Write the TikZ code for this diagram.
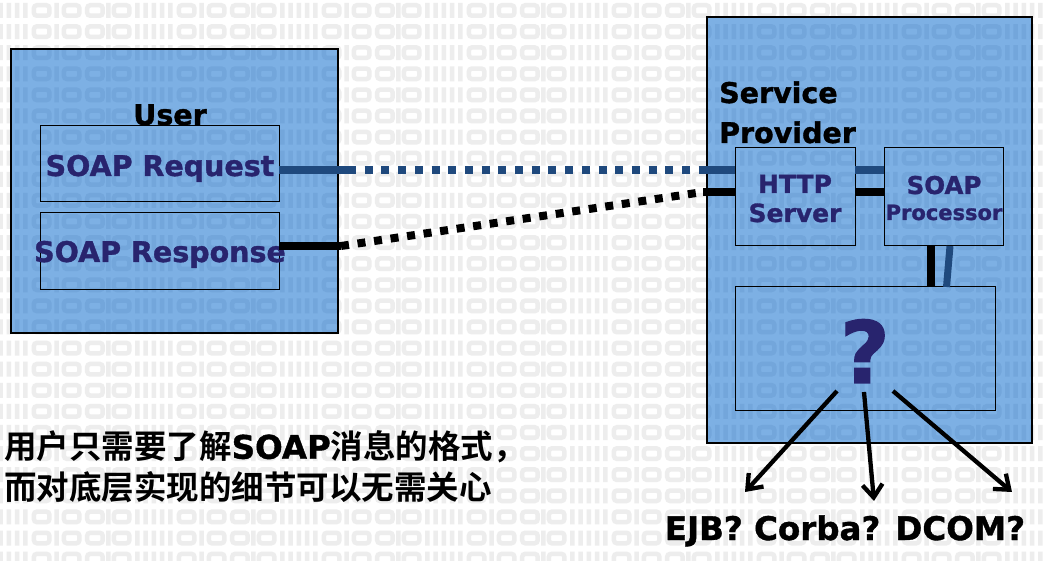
\documentclass[tikz,border=0pt]{standalone}
\usepackage{fontspec}
\setmainfont{DejaVu Sans}[BoldFeatures={FakeBold=1.2}]
\newfontfamily\latb{DejaVu Sans Bold}[FakeBold=1.2]
\newfontfamily\cjkb{Noto Sans CJK SC Bold}
\usetikzlibrary{arrows.meta,calc}
\definecolor{boxblue}{RGB}{125,176,228}
\definecolor{patblue}{RGB}{115,166,219}
\definecolor{patgray}{RGB}{237,237,237}
\definecolor{navy}{RGB}{40,36,110}
\definecolor{lineblue}{RGB}{31,73,125}
\tikzset{
  bigbox/.style={draw=black, line width=1.3pt, fill=boxblue, inner sep=0pt, outer sep=0pt},
  smallbox/.style={draw=black, line width=1pt, inner sep=0pt, outer sep=0pt},
  lbl/.style={font=\bfseries\fontsize{28.5}{34}\selectfont, inner sep=0pt},
  nv/.style={text=navy},
  patstroke/.style={line width=4.5pt, rounded corners=3pt},
  blsolid/.style={draw=lineblue, line width=8.5pt},
  bldots/.style={draw=lineblue, line width=8.5pt, dash pattern=on 8pt off 8.7pt},
  bksolid/.style={draw=black, line width=8pt},
  bkdots/.style={draw=black, line width=8pt, dash pattern=on 8pt off 8.7pt},
  arr/.style={draw=black, line width=4.3pt, -{Straight Barb[length=13pt,width=20pt]}}
}
\newcommand\patrows[1]{%
  \foreach \r in {0,...,26}{\foreach \p in {0,...,7}{%
    \pgfmathsetmacro\xx{-10+145*\p}\pgfmathsetmacro\yy{3+21.1*\r}%
    \draw[#1, patstroke]
      (\xx+2.25,\yy) -- ++(0,15) (\xx+10.5,\yy) -- ++(0,15) (\xx+18.75,\yy) -- ++(0,15)
      (\xx+27,\yy) -- ++(0,15) (\xx+35.25,\yy) -- ++(0,15)
      (\xx+43.9,\yy+2.25) rectangle (\xx+59.4,\yy+12.75)
      (\xx+66.7,\yy) -- ++(0,15)
      (\xx+73.9,\yy+2.25) rectangle (\xx+89.4,\yy+12.75)
      (\xx+97.2,\yy+2.25) rectangle (\xx+112.7,\yy+12.75)
      (\xx+118.3,\yy) -- ++(0,15)
      (\xx+123.9,\yy+2.25) rectangle (\xx+139.4,\yy+12.75);
  }}}
\begin{document}
\begin{tikzpicture}[x=1pt,y=-1pt]
\useasboundingbox (0,0) rectangle (1045,561);
\fill[white] (0,0) rectangle (1045,561);
\begin{scope}
\clip (0,0) rectangle (1045,561);
\patrows{patgray}
\end{scope}
% big boxes
\node[bigbox, minimum width=327pt, minimum height=284pt] (user) at (174.5,191) {};
\node[bigbox, minimum width=325pt, minimum height=426pt] (sp) at (869.5,230) {};
\begin{scope}
\clip (user.south west) rectangle (user.north east) (sp.south west) rectangle (sp.north east);
\patrows{patblue}
\end{scope}
\draw[line width=1.3pt] (user.south west) rectangle (user.north east);
\draw[line width=1.3pt] (sp.south west) rectangle (sp.north east);
% inner boxes
\node[smallbox, minimum width=239pt, minimum height=76pt] (req) at (159.5,164) {};
\node[smallbox, minimum width=239pt, minimum height=77pt] (resp) at (159.5,251.5) {};
\node[smallbox, minimum width=120pt, minimum height=98pt] (http) at (795,197) {};
\node[smallbox, minimum width=119pt, minimum height=98pt] (proc) at (943.5,197) {};
\node[smallbox, minimum width=260pt, minimum height=124pt] (qbox) at (865,349) {};
% labels
\node[lbl, anchor=base] (tuser) at (170,125) {User};
\node[lbl, nv, anchor=base] (treq) at (160,176) {SOAP Request};
\node[lbl, nv, anchor=base] (tresp) at (160,262) {SOAP Response};
\node[lbl, anchor=base west] (tsp1) at (719,103) {Service};
\node[lbl, anchor=base west] (tsp2) at (719,143) {Provider};
\node[nv, inner sep=0pt, anchor=base, font=\bfseries\fontsize{25}{30}\selectfont] (thttp1) at (795,193) {HTTP};
\node[nv, inner sep=0pt, anchor=base, font=\bfseries\fontsize{25}{30}\selectfont] (thttp2) at (795,222) {Server};
\node[nv, inner sep=0pt, anchor=base, font=\bfseries\fontsize{24.5}{30}\selectfont] (tproc1) at (944,194) {SOAP};
\node[nv, inner sep=0pt, anchor=base, font=\bfseries\fontsize{21}{24}\selectfont] (tproc2) at (944,220) {Processor};
\node[nv, inner sep=0pt, anchor=base, font=\bfseries\fontsize{86}{90}\selectfont] (tq) at (865,383) {?};
\node[inner sep=0pt, anchor=base, font=\bfseries\fontsize{32.5}{36}\selectfont] (tejb) at (845,540) {EJB? Corba? DCOM?};
\node[inner sep=0pt, anchor=west, font=\cjkb\fontsize{32.5}{38}\selectfont] (cn1) at (4,447) {用户只需要了解{\latb SOAP}消息的格式，};
\node[inner sep=0pt, anchor=west, font=\cjkb\fontsize{32.5}{38}\selectfont] (cn2) at (4,487) {而对底层实现的细节可以无需关心};
% request connector
\coordinate (r1) at (348,170);
\coordinate (r2) at (705,170);
\draw[blsolid] (req.east |- r1) -- (r1);
\draw[bldots] (r1) -- (r2);
\draw[blsolid] (r2) -- (r2 -| http.west);
\draw[blsolid] (http.east |- r1) -- (proc.west |- r1);
% response connector
\coordinate (s1) at (341,246);
\coordinate (s2) at (703,192);
\draw[bksolid] (resp.east |- s1) -- (s1);
\draw[bkdots] (s1) -- (s2);
\draw[bksolid] (s2) -- (s2 -| http.west);
\draw[bksolid] (http.east |- s2) -- (proc.west |- s2);
% processor to ? box
\draw[bksolid] ($(proc.south west)+(46.5,0)$) -- ($(qbox.north west)+(195.5,0)$);
\draw[blsolid, line width=7pt] ($(proc.south west)+(66,0)$) -- ($(qbox.north west)+(211.5,0)$);
% arrows
\coordinate (a1) at (837,391);
\coordinate (a2) at (864,392);
\coordinate (a3) at (893,391);
\coordinate (b1) at (745,492);
\coordinate (b2) at (874,501);
\coordinate (b3) at (1012,492);
\draw[arr] (a1) -- (b1);
\draw[arr] (a2) -- (b2);
\draw[arr] (a3) -- (b3);
\end{tikzpicture}
\end{document}
